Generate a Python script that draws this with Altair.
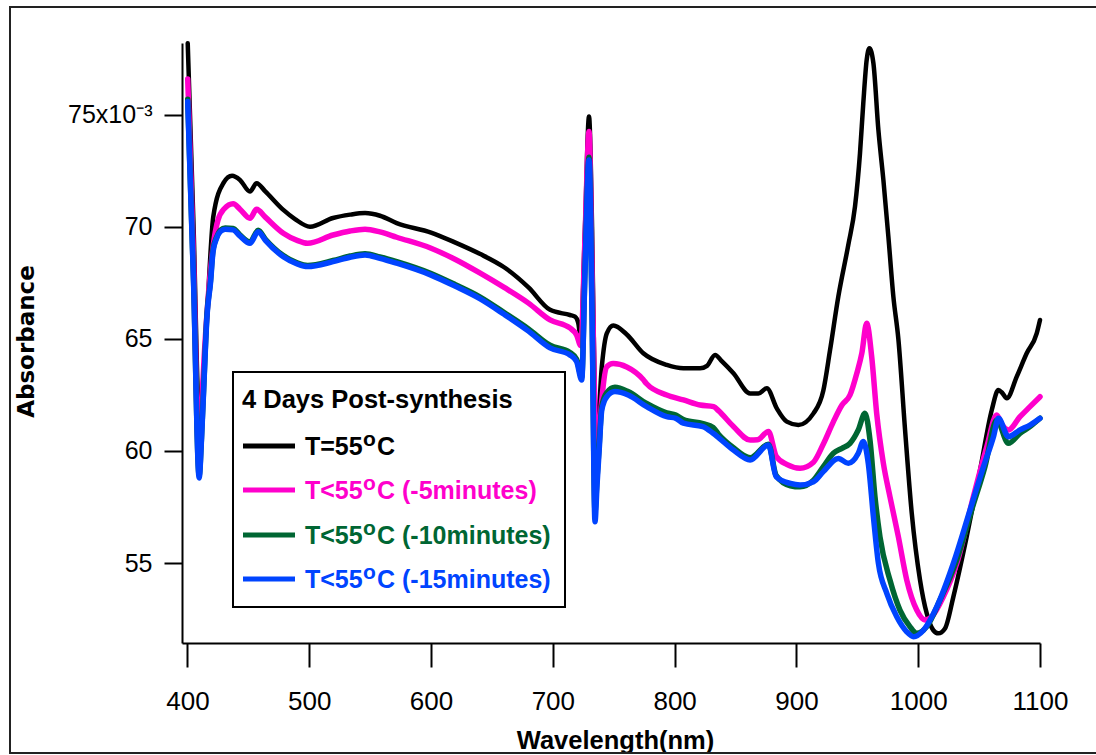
import altair as alt
import pandas as pd

# ---------------- data (absorbance in units of 1e-3) ----------------
wl_t55 = [400.2, 405.0, 409.5, 411.7, 415.8, 421.2, 429.4, 436.6, 443.1, 451.3, 456.8, 463.7, 478.7, 488.3,
          500.6, 519.5, 533.5, 545.8, 558.1, 571.8, 600, 620, 640, 660, 680, 697.7, 714.0, 718.2, 720.9,
          722.9, 726.4, 729.7, 732.2, 734.6, 736.3, 740.2, 744.3, 749.7, 760.7, 774.3, 793.5, 807.2, 820.9,
          826.6, 833.2, 838.9, 848.3, 862.0, 868.8, 875.7, 883.9, 892.1, 901.6, 914.0, 922.1, 927.6, 934.4,
          942.6, 948.1, 952.2, 954.9, 957.7, 959.9, 963.2, 967.3, 971.4, 975.5, 979.6, 983.7, 989.2, 994.7,
          1001.5, 1007.0, 1012.4, 1016.5, 1022.0, 1028.9, 1039.8, 1050.8, 1060.4, 1065.8, 1068.9, 1072.7,
          1080.9, 1089.1, 1097.3, 1100]
ab_t55 = [78.2, 70.0, 61.8, 62.4, 65.86, 70.46, 71.95, 72.28, 72.1, 71.58, 71.95, 71.6, 70.76, 70.35,
          70.01, 70.4, 70.55, 70.62, 70.5, 70.17, 69.75, 69.3, 68.8, 68.2, 67.3, 66.3, 66.07, 66.0, 65.7,
          65.05, 70.0, 74.93, 70.0, 62.0, 60.8, 63.76, 65.25, 65.6, 65.2, 64.36, 63.84, 63.69, 63.69,
          63.8, 64.29, 64.0, 63.47, 62.57, 62.57, 62.8, 61.9, 61.31, 61.16, 61.68, 62.7, 64.5, 66.89,
          69.2, 70.91, 73.29, 75.52, 77.46, 77.98, 77.31, 74.33, 72.1, 69.57, 66.89, 65.0, 60.94, 57.22,
          54.24, 52.75, 52.0, 51.86, 52.08, 53.5, 56.17, 59.15, 61.83, 62.72, 62.6, 62.35,
          63.32, 64.36, 65.25, 65.85]

wl_5min = [400.2, 405.0, 409.5, 411.0, 413.5, 416.5, 421.2, 425.0, 430.0, 437.5, 443.0, 451.3, 456.8, 463.7,
           478.7, 490.0, 498.6, 519.5, 533.5, 545.8, 558.0, 571.8, 600, 620, 640, 660, 680, 697.7, 714.0,
           719.5, 722.9, 726.4, 729.7, 732.2, 734.6, 736.0, 738.0, 740.2, 744.3, 749.5, 760.7, 774.0, 777.0,
           793.5, 807.2, 820.9, 832.0, 836.0, 848.3, 862.0, 868.0, 877.0, 883.5, 892.0, 903.0, 914.0, 922.0,
           930.3, 937.4, 944.0, 949.6, 953.7, 957.7, 961.8, 965.9, 971.4, 976.8, 983.7, 990.6, 998.8,
           1005.6, 1011.1, 1020.7, 1031.7, 1045.3, 1056.3, 1064.5, 1068.5, 1074.0, 1083.6, 1091.8, 1100]
ab_5min = [76.6, 68.5, 59.6, 61.2, 64.0, 66.5, 69.2, 70.3, 70.8, 71.03, 70.8, 70.39, 70.79, 70.45,
           69.72, 69.4, 69.27, 69.64, 69.82, 69.9, 69.78, 69.54, 69.05, 68.55, 67.95, 67.3, 66.6, 65.85, 65.49,
           65.18, 64.7, 69.5, 74.26, 68.0, 61.5, 59.0, 60.8, 62.3, 63.76, 63.9, 63.75, 63.2, 63.0,
           62.5, 62.28, 62.05, 61.98, 61.8, 61.09, 60.49, 60.5, 60.87, 59.75, 59.4, 59.23, 59.5, 60.3,
           61.3, 62.05, 62.5, 63.47, 64.36, 65.7, 64.21, 61.68, 59.45, 57.96, 56.17, 54.24, 52.9,
           52.46, 52.6, 53.5, 54.99, 57.96, 60.19, 61.61, 61.2, 60.94, 61.53, 61.98, 62.42]

wl_10min = [400.2, 405.0, 409.6, 411.5, 413.5, 416.0, 418.9, 421.0, 424.0, 427.0, 431.0, 437.5, 443.0, 451.3,
            458.0, 464.0, 478.7, 490.0, 498.6, 519.5, 533.5, 545.8, 558.0, 571.8, 600, 620, 640, 660, 680,
            697.7, 714.0, 719.5, 723.7, 726.4, 729.7, 732.2, 734.6, 736.3, 738.0, 740.2, 744.3, 751.0, 761.8,
            777.0, 793.5, 801.0, 807.2, 823.3, 831.6, 836.0, 848.3, 862.0, 877.0, 883.4, 895.0, 903.0, 914.0,
            922.1, 930.3, 937.4, 944.0, 950.8, 956.3, 960.4, 964.5, 968.6, 976.8, 985.0, 993.2, 998.8,
            1007.0, 1017.9, 1031.6, 1043.9, 1054.8, 1064.5, 1074.0, 1083.6, 1091.8, 1100]
ab_10min = [75.7, 67.6, 58.9, 60.6, 63.1, 66.1, 67.6, 69.0, 69.55, 69.85, 69.95, 69.93, 69.65, 69.33,
            69.85, 69.45, 68.72, 68.4, 68.28, 68.5, 68.7, 68.8, 68.66, 68.45, 67.92, 67.42, 66.88, 66.18, 65.45,
            64.72, 64.4, 64.1, 63.3, 68.1, 73.11, 66.2, 57.3, 58.8, 60.2, 62.0, 62.6, 62.84, 62.65,
            62.12, 61.7, 61.6, 61.4, 61.22, 61.05, 60.75, 60.15, 59.7, 60.3, 58.9, 58.45, 58.4, 58.7,
            59.3, 59.9, 60.12, 60.34, 60.94, 61.68, 60.49, 57.96, 56.17, 54.24, 52.9, 52.16, 51.86,
            52.16, 53.35, 55.13, 57.37, 59.3, 61.38, 60.34, 60.79, 61.09, 61.46]

wl_15min = [400.2, 405.0, 409.6, 411.5, 413.5, 416.0, 418.9, 421.0, 424.0, 427.0, 431.0, 437.5, 443.0, 451.3,
            458.0, 464.0, 478.7, 490.0, 498.6, 519.5, 533.5, 545.8, 558.0, 571.8, 600, 620, 640, 660, 680,
            697.7, 714.0, 719.5, 723.7, 726.4, 729.7, 732.2, 734.6, 736.3, 738.0, 740.2, 744.3, 751.0, 761.8,
            777.0, 793.5, 801.0, 807.2, 823.3, 831.6, 836.0, 848.3, 862.0, 877.0, 883.4, 895.0, 903.0, 914.0,
            922.1, 934.4, 942.6, 950.8, 954.9, 959.0, 963.2, 967.3, 974.2, 982.4, 990.6, 996.1, 1004.3,
            1015.3, 1028.9, 1042.6, 1053.6, 1061.8, 1065.9, 1074.0, 1083.6, 1091.8, 1100]
ab_15min = [75.6, 67.5, 58.8, 60.5, 63.0, 66.0, 67.5, 68.9, 69.5, 69.8, 69.9, 69.87, 69.6, 69.27,
            69.79, 69.4, 68.67, 68.35, 68.23, 68.45, 68.65, 68.75, 68.6, 68.38, 67.85, 67.35, 66.8, 66.1, 65.35,
            64.6, 64.29, 63.99, 63.17, 68.0, 72.99, 66.0, 56.84, 58.5, 60.0, 61.83, 62.42, 62.65, 62.5,
            61.98, 61.53, 61.46, 61.24, 61.09, 60.79, 60.6, 60.04, 59.6, 60.27, 58.85, 58.55, 58.48, 58.63,
            59.08, 59.67, 59.45, 59.9, 60.42, 59.45, 57.07, 54.99, 53.65, 52.6, 51.93, 51.71, 52.0,
            53.05, 54.99, 57.37, 59.3, 60.64, 61.46, 60.64, 60.94, 61.16, 61.46]

series_wl = [wl_t55, wl_5min, wl_10min, wl_15min]
series_ab = [ab_t55, ab_5min, ab_10min, ab_15min]
series_colors = ["#000000", "#ff00cc", "#006633", "#0044ff"]
series_widths = [4.5, 5.5, 5.5, 5.5]
legend_title = "4 Days Post-synthesis"
legend_prefix = ["T=55", "T<55", "T<55", "T<55"]
legend_suffix = ["C", "C (-5minutes)", "C (-10minutes)", "C (-15minutes)"]

x_ticks = [400, 500, 600, 700, 800, 900, 1000, 1100]
y_ticks = [55, 60, 65, 70, 75]

for w, a in zip(series_wl, series_ab):
    assert len(w) == len(a), (len(w), len(a))

SANS = "Liberation Sans, Arial"

x_enc = alt.X("wl:Q", scale=alt.Scale(domain=[395.5, 1100], nice=False, zero=False),
              axis=alt.Axis(values=x_ticks, format="d", title="Wavelength(nm)", grid=False,
                            domainColor="black", domainWidth=2, tickColor="black", tickWidth=2,
                            tickSize=24, labelFont=SANS, labelFontSize=26, labelColor="black",
                            labelBaseline="alphabetic", labelPadding=42,
                            titleFont=SANS, titleFontSize=25.5, titleFontWeight="bold", titleColor="black",
                            titleX=433, titleY=105, titleBaseline="alphabetic", titleAlign="center",
                            labelFlush=False))
y_enc = alt.Y("ab:Q", scale=alt.Scale(domain=[51.43, 78.21], nice=False, zero=False),
              axis=alt.Axis(values=y_ticks, title="Absorbance", grid=False,
                            domainColor="black", domainWidth=2, tickColor="black", tickWidth=2,
                            tickSize=18, labelFont=SANS, labelFontSize=25, labelColor="black",
                            labelPadding=12, labelFlush=False,
                            labelExpr="datum.value == 75 ? '75x10\u207b\u00b3' : datum.label",
                            titleFont="DejaVu Sans", titleFontSize=23, titleFontWeight="bold",
                            titleColor="black", titleAngle=-90, titleX=-156, titleY=298,
                            titleBaseline="middle", titleAlign="center"))

one = pd.DataFrame({"k": [0]})
layers = []

# outer frame of the figure
layers.append(alt.Chart(one).mark_rect(filled=False, stroke="#222222", strokeWidth=2).encode(
    x=alt.value(-172), x2=alt.value(930), y=alt.value(-36), y2=alt.value(710)))

for w, a, c, sw in zip(series_wl, series_ab, series_colors, series_widths):
    df = pd.DataFrame({"wl": w, "ab": a})
    layers.append(alt.Chart(df).mark_line(color=c, strokeWidth=sw, interpolate="monotone",
                                          strokeJoin="round", strokeCap="round").encode(x=x_enc, y=y_enc))

# legend box
layers.append(alt.Chart(one).mark_rect(fill="white", stroke="black", strokeWidth=2).encode(
    x=alt.value(51), x2=alt.value(383), y=alt.value(329), y2=alt.value(564)))
layers.append(alt.Chart(one).mark_text(text=legend_title, font=SANS, fontSize=25.5, fontWeight="bold",
                                       align="left", baseline="alphabetic", color="black").encode(
    x=alt.value(60), y=alt.value(365)))
row_base = [412, 456, 501, 545]
for i in range(4):
    yb = row_base[i]
    col = series_colors[i]
    layers.append(alt.Chart(one).mark_rule(color=col, strokeWidth=5).encode(
        x=alt.value(61), x2=alt.value(113), y=alt.value(yb - 9)))
    layers.append(alt.Chart(one).mark_text(text=legend_prefix[i], font=SANS, fontSize=25, fontWeight="bold",
                                           align="left", baseline="alphabetic", color=col).encode(
        x=alt.value(123), y=alt.value(yb)))
    layers.append(alt.Chart(one).mark_text(text="o", font=SANS, fontSize=21, fontWeight="bold",
                                           align="left", baseline="alphabetic", color=col).encode(
        x=alt.value(181), y=alt.value(yb - 9)))
    layers.append(alt.Chart(one).mark_text(text=legend_suffix[i], font=SANS, fontSize=25, fontWeight="bold",
                                           align="left", baseline="alphabetic", color=col).encode(
        x=alt.value(195), y=alt.value(yb)))

chart = alt.layer(*layers).properties(
    width=858, height=600,
    padding={"left": 182, "top": 43, "right": 56, "bottom": 112},
    autosize=alt.AutoSizeParams(type="none"),
    background="white",
).configure_view(stroke=None)

chart.save("out.html", embed_options={"renderer": "svg", "actions": False})
